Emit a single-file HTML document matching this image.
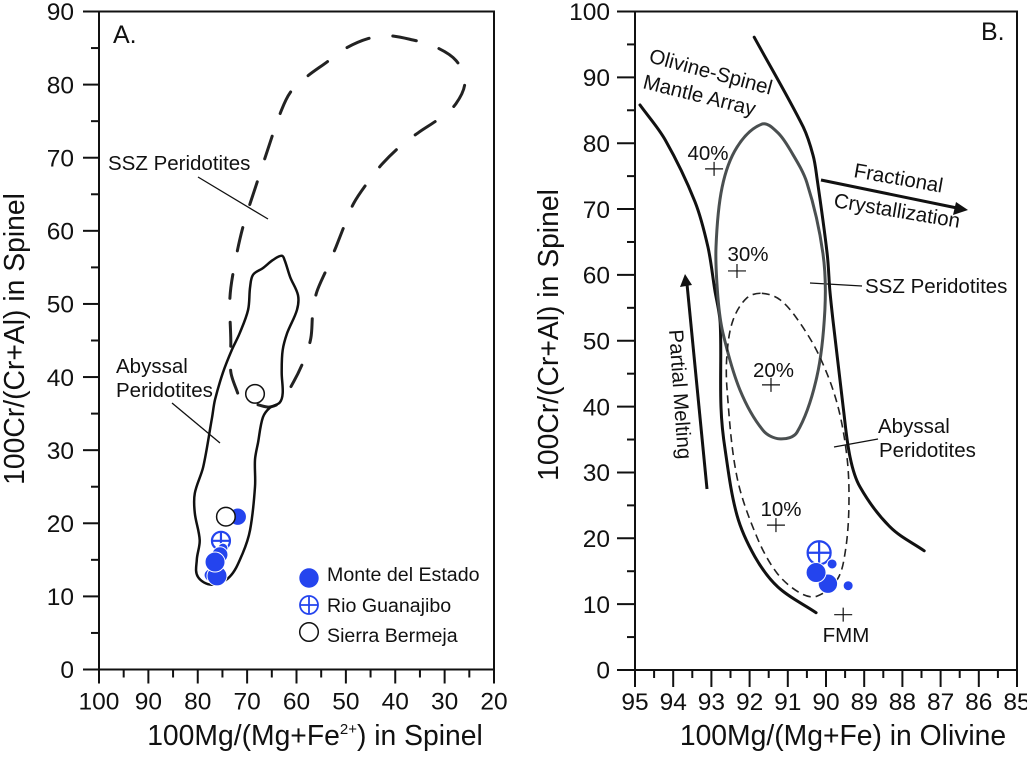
<!DOCTYPE html>
<html lang="en">
<head>
<meta charset="utf-8">
<title>Spinel and olivine discrimination diagrams</title>
<style>
html,body{margin:0;padding:0;background:#fff;width:1027px;height:758px;overflow:hidden}
svg{display:block}
text{font-family:"Liberation Sans",sans-serif;fill:#111}
.tick{font-size:24.5px}
.title{font-size:28.3px}
.note{font-size:20.5px}
.legend{font-size:19.6px}
</style>
</head>
<body>
<svg id="chart" width="1027" height="758" viewBox="0 0 1027 758" xmlns="http://www.w3.org/2000/svg">
  <g id="panel-a">
    <text x="113" y="43" style="font-size:25px">A.</text>
    <text class="title" x="315" y="745" text-anchor="middle">100Mg/(Mg+Fe<tspan dy="-11" font-size="15">2+</tspan><tspan dy="11">) in Spinel</tspan></text>
    <text class="title" x="24" y="339" text-anchor="middle" transform="rotate(-90 24 339)">100Cr/(Cr+Al) in Spinel</text>
    <text class="note" x="108" y="170">SSZ Peridotites</text>
    <text class="note" x="116" y="373">Abyssal</text>
    <text class="note" x="116" y="397">Peridotites</text>
    <line x1="198" y1="177" x2="268" y2="219" stroke="#111" stroke-width="1.3"/>
    <line x1="172" y1="403" x2="220" y2="443" stroke="#111" stroke-width="1.3"/>
    <text class="legend" x="327" y="581">Monte del Estado</text>
    <text class="legend" x="327" y="612">Rio Guanajibo</text>
    <text class="legend" x="327" y="642">Sierra Bermeja</text>
  </g>
  <g id="panel-b">
    <text x="981" y="40" style="font-size:25px">B.</text>
    <text class="title" x="843" y="745" text-anchor="middle">100Mg/(Mg+Fe) in Olivine</text>
    <text class="title" x="558" y="335" text-anchor="middle" transform="rotate(-90 558 335)">100Cr/(Cr+Al) in Spinel</text>
    <text class="note" x="648" y="62" transform="rotate(15 648 62)">Olivine-Spinel</text>
    <text class="note" x="642" y="88" transform="rotate(14 642 88)">Mantle Array</text>
    <text class="note" x="853" y="177" transform="rotate(10 853 177)">Fractional</text>
    <text class="note" x="833" y="207" transform="rotate(9.4 833 207)">Crystallization</text>
    <text class="note" x="669" y="330" transform="rotate(86 669 330)">Partial Melting</text>
    <text class="note" x="865" y="293">SSZ Peridotites</text>
    <text class="note" x="878" y="433">Abyssal</text>
    <text class="note" x="879" y="457">Peridotites</text>
    <text class="note" x="846" y="642" text-anchor="middle">FMM</text>
    <text class="note" x="708" y="160" text-anchor="middle">40%</text>
    <text class="note" x="748" y="261" text-anchor="middle">30%</text>
    <text class="note" x="773.5" y="377" text-anchor="middle">20%</text>
    <text class="note" x="781" y="516" text-anchor="middle">10%</text>
    <line x1="810" y1="283" x2="862" y2="286" stroke="#111" stroke-width="1.3"/>
    <line x1="834" y1="447" x2="878" y2="439" stroke="#111" stroke-width="1.3"/>
    <line x1="707" y1="489" x2="687" y2="284" stroke="#111" stroke-width="3"/>
    <polygon points="685,274 680,287 692,285" fill="#111"/>
    <line x1="821" y1="180" x2="957" y2="208" stroke="#111" stroke-width="3"/>
    <polygon points="968,210 956,202 953,215" fill="#111"/>
  </g>
</svg>
<script>
// ---- Panel A data ----
const xTicksA = [100, 90, 80, 70, 60, 50, 40, 30, 20];
const yTicksA = [0, 10, 20, 30, 40, 50, 60, 70, 80, 90];
const sszOutlineA = [[71.9,37.8],[73.3,40.7],[73.3,45.1],[73.5,50.5],[72.9,54],[70.9,60.4],[68,66.6],[65,72.8],[63.4,75.9],[61.3,78.9],[57.9,81.1],[53.8,83.1],[50.2,84.9],[45.5,86.3],[41.5,86.7],[36.4,86.1],[32,85.2],[27.7,83.3],[25.9,80.4],[27.7,77.4],[31.2,75.3],[35.4,73.4],[39.1,71.5],[42.7,69.1],[45.5,66.7],[48.4,63.8],[50.2,60.9],[52,57.8],[53.8,54.9],[55.9,51.6],[56.7,48.8],[57.1,45.3],[58.5,42.3],[60.7,39.2],[63.2,36.6],[65.4,35.9],[67.8,36.2]];
const abyssalOutlineA = [[63,56.6],[62.4,56],[61.3,53.7],[59.7,51.2],[59.9,49.2],[61.9,46],[62.8,43.7],[63,40.6],[62.8,37.8],[63.4,36.5],[65.4,35.8],[66.8,34.5],[67.8,31],[68.4,28.7],[68.4,25],[69.4,19.1],[70.9,15.9],[73.5,12.7],[77.1,11.6],[80,12.7],[80.2,15],[79.6,17.7],[80.6,21.4],[80.6,24.1],[78.9,27.7],[77.1,34.5],[76.5,36.9],[74.9,40.6],[73.1,43.7],[71.5,46],[69.8,49.2],[69.4,52.3],[68.8,54],[66.8,54.9],[64.8,56]];
const monteBackA = [[71.9,20.9,8.7]];
const monteFrontA = [[74.9,16.6,5],[75.5,15.7,8],[77.5,12.9,6],[76.1,12.8,10],[76.5,14.7,10]];
const rioA = [[75.3,17.6,9]];
const sierraA = [[68.4,37.7,9.3],[74.3,20.9,9.3]];

// ---- Panel B data ----
const xTicksB = [95, 94, 93, 92, 91, 90, 89, 88, 87, 86, 85];
const yTicksB = [0, 10, 20, 30, 40, 50, 60, 70, 80, 90, 100];
const arrayLeftB = [[94.87,85.8],[94.21,80.5],[93.43,71.1],[93.09,64.2],[92.91,57.7],[92.77,52.7],[92.75,39.9],[92.64,33.4],[92.33,23.5],[91.86,17.2],[91.26,12.6],[90.26,8.7]];
const arrayRightB = [[91.88,96.1],[90.6,82.5],[90.34,78.2],[90.24,74.9],[89.97,63.3],[89.9,57.7],[89.82,53.2],[89.55,39.9],[89.37,32.3],[89.11,27.8],[88.32,21.7],[87.43,18.1]];
const sszOutlineB = [[91.68,82.9],[91.28,81.7],[90.94,79],[90.5,74],[90.08,63.3],[90.03,54.7],[90.24,44.5],[90.76,36.1],[91.2,35.1],[91.65,36.4],[92.25,42.5],[92.7,51.2],[92.83,56.6],[92.88,64.2],[92.72,73.3],[92.33,79.4]];
const abyssalOutlineB = [[91.68,57.2],[91.2,56.2],[90.68,52.7],[90.16,47.5],[89.71,40.5],[89.45,32.3],[89.4,24.8],[89.5,17.8],[89.71,13.7],[90.24,11.2],[90.68,11.7],[91.28,14.7],[91.81,20.2],[92.33,29.3],[92.59,42.5],[92.59,48.1],[92.43,53.2],[92.07,56.5]];
const monteB = [[89.84,16.1,5],[89.42,12.8,5],[89.95,13.1,9.7],[90.26,14.8,10]];
const rioB = [[90.18,17.8,11.5]];
const meltingMarks = [[92.93,76.1],[92.33,60.6],[91.44,43.3],[91.31,22],[89.55,8.4]];

const NS = 'http://www.w3.org/2000/svg';
const BLUE = '#2444ee';
const INK = '#111';
const panelA = document.getElementById('panel-a');
const panelB = document.getElementById('panel-b');

function lin(d0, d1, p0, p1) {
  return function (v) { return p0 + (v - d0) * (p1 - p0) / (d1 - d0); };
}
const xA = lin(100, 20, 99, 494);
const yA = lin(0, 90, 669.5, 11.5);
const xB = lin(95, 85, 635, 1017);
const yB = lin(0, 100, 670, 11.5);

function make(parent, tag, props, content) {
  const n = document.createElementNS(NS, tag);
  for (const k in props) n.setAttribute(k, props[k]);
  if (content !== undefined) n.textContent = content;
  parent.appendChild(n);
  return n;
}
function smooth(points, closed, sx, sy) {
  const p = points.map(function (q) { return [sx(q[0]), sy(q[1])]; });
  const n = p.length;
  const at = function (i) { return closed ? p[(i + n) % n] : p[Math.max(0, Math.min(n - 1, i))]; };
  const dir = function (a, c) {
    const dx = c[0] - a[0], dy = c[1] - a[1], l = Math.hypot(dx, dy) || 1;
    return [dx / l, dy / l];
  };
  let d = 'M' + p[0][0].toFixed(1) + ' ' + p[0][1].toFixed(1);
  const last = closed ? n : n - 1;
  for (let i = 0; i < last; i++) {
    const a = at(i - 1), b = at(i), c = at(i + 1), e = at(i + 2);
    const seg = Math.hypot(c[0] - b[0], c[1] - b[1]) / 3;
    const t1 = dir(a, c), t2 = dir(b, e);
    d += 'C' + (b[0] + t1[0] * seg).toFixed(1) + ' ' + (b[1] + t1[1] * seg).toFixed(1) + ' ' +
         (c[0] - t2[0] * seg).toFixed(1) + ' ' + (c[1] - t2[1] * seg).toFixed(1) + ' ' +
         c[0].toFixed(1) + ' ' + c[1].toFixed(1);
  }
  return d + (closed ? 'Z' : '');
}
function axes(parent, xTicks, yTicks, sx, sy, xStepMinor, yStepMinor, prefix, xMajorLen, yMajorLen) {
  const left = sx(xTicks[0]), right = sx(xTicks[xTicks.length - 1]);
  const bottom = sy(yTicks[0]), top = sy(yTicks[yTicks.length - 1]);
  const lineProps = { stroke: INK, 'stroke-width': 2 };
  const frame = make(parent, 'path', { d: 'M' + left + ' ' + top + 'H' + right + 'V' + bottom + 'H' + left + 'Z', fill: 'none', stroke: INK, 'stroke-width': 2 });
  
  
  xTicks.forEach(function (v, i) {
    const px = sx(v);
    const t = make(parent, 'line', Object.assign({ x1: px, x2: px, y1: bottom, y2: bottom + xMajorLen }, lineProps));
    
    
    const lab = make(parent, 'text', { x: px, y: bottom + 40, 'text-anchor': 'middle', class: 'tick' }, String(v));
    
    
    if (i < xTicks.length - 1) {
      const mpx = sx(v + xStepMinor);
      const m = make(parent, 'line', Object.assign({ x1: mpx, x2: mpx, y1: bottom, y2: bottom + 8 }, lineProps));
      
      
    }
  });
  yTicks.forEach(function (v, i) {
    const py = sy(v);
    const t = make(parent, 'line', Object.assign({ x1: left - yMajorLen, x2: left, y1: py, y2: py }, lineProps));
    
    
    const lab = make(parent, 'text', { x: left - 25, y: py + 8.7, 'text-anchor': 'end', class: 'tick' }, String(v));
    
    
    if (i < yTicks.length - 1) {
      const mpy = sy(v + yStepMinor);
      const m = make(parent, 'line', Object.assign({ x1: left - 8, x2: left, y1: mpy, y2: mpy }, lineProps));
      
      
    }
  });
}
function monteDot(parent, p, sx, sy) {
  const c = make(parent, 'circle', { cx: sx(p[0]), cy: sy(p[1]), r: p[2], fill: BLUE, stroke: '#fff', 'stroke-width': 1 });
  
  
}
function sierraDot(parent, p, sx, sy) {
  const c = make(parent, 'circle', { cx: sx(p[0]), cy: sy(p[1]), r: p[2], fill: '#fff', stroke: INK, 'stroke-width': 1.5 });
  
  
}
function rioDot(parent, p, sx, sy) {
  const cx = sx(p[0]), cy = sy(p[1]), r = p[2];
  const g = make(parent, 'g', { fill: '#fff', stroke: BLUE, 'stroke-width': 2.2 });
  
  
  make(g, 'circle', { cx: cx, cy: cy, r: r });
  make(g, 'path', { d: 'M' + (cx - r) + ' ' + cy + 'H' + (cx + r) + 'M' + cx + ' ' + (cy - r) + 'V' + (cy + r) });
}

// Panel A
axes(panelA, xTicksA, yTicksA, xA, yA, -5, 5, 'panel-a', 14, 16);
const sszA = make(panelA, 'path', { d: smooth(sszOutlineA, false, xA, yA), fill: 'none', stroke: '#222', 'stroke-width': 3, 'stroke-dasharray': '24 24', 'stroke-linecap': 'round' });


const abyA = make(panelA, 'path', { d: smooth(abyssalOutlineA, true, xA, yA), fill: 'none', stroke: INK, 'stroke-width': 2.5 });


monteBackA.forEach(function (p) { monteDot(panelA, p, xA, yA); });
sierraA.forEach(function (p) { sierraDot(panelA, p, xA, yA); });
rioA.forEach(function (p) { rioDot(panelA, p, xA, yA); });
monteFrontA.forEach(function (p) { monteDot(panelA, p, xA, yA); });

// Legend symbols (fixed key positions, not data)
const legendMonte = make(panelA, 'circle', { cx: 309, cy: 578, r: 9.7, fill: BLUE });


const legendRio = make(panelA, 'g', { fill: '#fff', stroke: BLUE, 'stroke-width': 1.8 });


make(legendRio, 'circle', { cx: 309, cy: 605, r: 9 });
make(legendRio, 'path', { d: 'M300 605H318M309 596V614' });
const legendSierra = make(panelA, 'circle', { cx: 309, cy: 632, r: 9.3, fill: '#fff', stroke: INK, 'stroke-width': 1.5 });



// Panel B
axes(panelB, xTicksB, yTicksB, xB, yB, -0.5, 5, 'panel-b', 17, 18);
const leftB = make(panelB, 'path', { d: smooth(arrayLeftB, false, xB, yB), fill: 'none', stroke: INK, 'stroke-width': 3, 'stroke-linecap': 'round' });


const rightB = make(panelB, 'path', { d: smooth(arrayRightB, false, xB, yB), fill: 'none', stroke: INK, 'stroke-width': 3, 'stroke-linecap': 'round' });


const sszB = make(panelB, 'path', { d: smooth(sszOutlineB, true, xB, yB), fill: 'none', stroke: '#4a4f50', 'stroke-width': 3 });


const abyB = make(panelB, 'path', { d: smooth(abyssalOutlineB, true, xB, yB), fill: 'none', stroke: '#222', 'stroke-width': 1.6, 'stroke-dasharray': '8 5' });


meltingMarks.forEach(function (p) {
  const cx = xB(p[0]), cy = yB(p[1]);
  const m = make(panelB, 'path', { d: 'M' + (cx - 9) + ' ' + cy + 'H' + (cx + 9) + 'M' + cx + ' ' + (cy - 7) + 'V' + (cy + 7), stroke: INK, 'stroke-width': 1.2, fill: 'none' });
  
  
});
rioB.forEach(function (p) { rioDot(panelB, p, xB, yB); });
monteB.forEach(function (p) { monteDot(panelB, p, xB, yB); });
</script>
</body>
</html>
